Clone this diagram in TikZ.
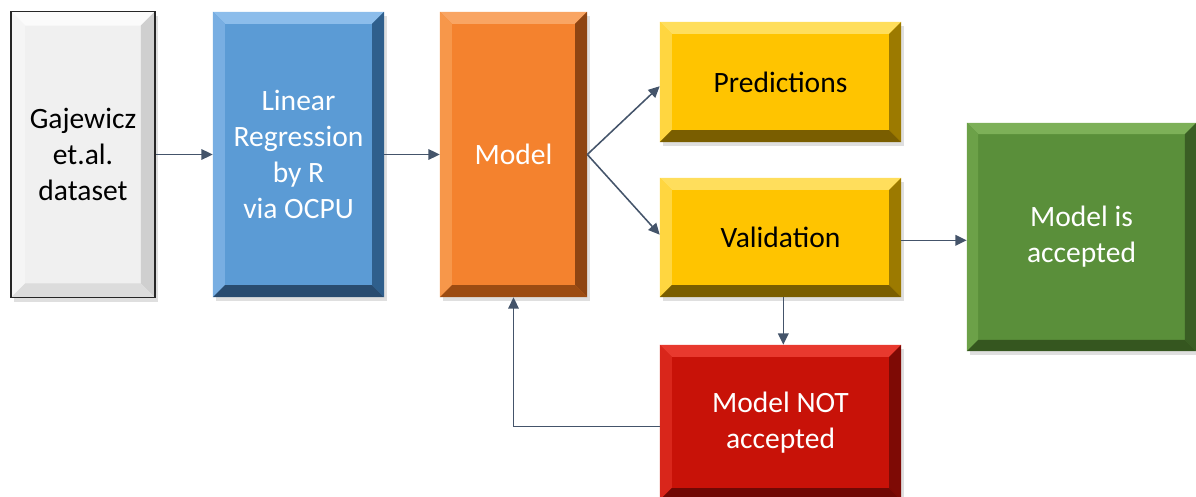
\documentclass[tikz,border=0pt]{standalone}
\usepackage{fontspec}
\setmainfont{Carlito}
\usetikzlibrary{arrows.meta,shadows}
\definecolor{arr}{HTML}{44546A}
\definecolor{gface}{HTML}{F0F0F0}\definecolor{gtop}{HTML}{FBFBFB}\definecolor{gleft}{HTML}{F5F5F5}\definecolor{gright}{HTML}{CFCFCF}\definecolor{gbot}{HTML}{DCDCDC}
\definecolor{bface}{HTML}{5B9BD5}\definecolor{btop}{HTML}{8CBDEB}\definecolor{bleft}{HTML}{78AEE2}\definecolor{bright}{HTML}{2F5F8C}\definecolor{bbot}{HTML}{294C70}
\definecolor{oface}{HTML}{F4822E}\definecolor{otop}{HTML}{F9A563}\definecolor{oleft}{HTML}{F7974A}\definecolor{oright}{HTML}{8E4512}\definecolor{obot}{HTML}{9C4C12}
\definecolor{yface}{HTML}{FFC400}\definecolor{ytop}{HTML}{FFDE5C}\definecolor{yleft}{HTML}{FFD640}\definecolor{yright}{HTML}{9C7A00}\definecolor{ybot}{HTML}{7A5E00}
\definecolor{nface}{HTML}{5A8F3A}\definecolor{ntop}{HTML}{7DB058}\definecolor{nleft}{HTML}{6CA148}\definecolor{nright}{HTML}{3A5E24}\definecolor{nbot}{HTML}{35561F}
\definecolor{rface}{HTML}{C81208}\definecolor{rtop}{HTML}{E8392E}\definecolor{rleft}{HTML}{D9261B}\definecolor{rright}{HTML}{7E0A05}\definecolor{rbot}{HTML}{700804}
\tikzset{
  bevelbox/.style n args={6}{rectangle, inner sep=0pt, fill=#1, align=center,
    font=\fontsize{21}{25.5}\selectfont, text=white,
    drop shadow={opacity=0.25, shadow xshift=2pt, shadow yshift=-3pt},
    path picture={
      \fill[#2] (path picture bounding box.north west) -- (path picture bounding box.north east)
        -- ([xshift=-#6,yshift=-#6]path picture bounding box.north east) -- ([xshift=#6,yshift=-#6]path picture bounding box.north west) -- cycle;
      \fill[#3] (path picture bounding box.north west) -- (path picture bounding box.south west)
        -- ([xshift=#6,yshift=#6]path picture bounding box.south west) -- ([xshift=#6,yshift=-#6]path picture bounding box.north west) -- cycle;
      \fill[#4] (path picture bounding box.north east) -- (path picture bounding box.south east)
        -- ([xshift=-#6,yshift=#6]path picture bounding box.south east) -- ([xshift=-#6,yshift=-#6]path picture bounding box.north east) -- cycle;
      \fill[#5] (path picture bounding box.south west) -- (path picture bounding box.south east)
        -- ([xshift=-#6,yshift=#6]path picture bounding box.south east) -- ([xshift=#6,yshift=#6]path picture bounding box.south west) -- cycle;
    }},
  graybox/.style={bevelbox={gface}{gtop}{gleft}{gright}{gbot}{10pt}, text=black, draw=black!85, line width=1.2pt},
  bluebox/.style={bevelbox={bface}{btop}{bleft}{bright}{bbot}{8.5pt}},
  orangebox/.style={bevelbox={oface}{otop}{oleft}{oright}{obot}{8.5pt}},
  yellowbox/.style={bevelbox={yface}{ytop}{yleft}{yright}{ybot}{8.5pt}, text=black},
  greenbox/.style={bevelbox={nface}{ntop}{nleft}{nright}{nbot}{8pt}},
  redbox/.style={bevelbox={rface}{rtop}{rleft}{rright}{rbot}{8.5pt}},
  conn/.style={draw=arr, line width=1.1pt, -{Triangle[length=8pt,width=7.5pt]}}
}
\begin{document}
\begin{tikzpicture}[x=0.025cm,y=-0.025cm]
\clip (0,0) rectangle (1196,497);
\useasboundingbox (0,0) rectangle (1196,497);
\node[graybox, minimum width=3.6cm, minimum height=7.15cm] (data) at (83,154.5) {Gajewicz\\et.al.\\dataset};
\node[bluebox, minimum width=4.275cm, minimum height=7.125cm] (lr) at (298.5,154.5) {Linear\\Regression\\by R\\via OCPU};
\node[orangebox, minimum width=3.675cm, minimum height=7.125cm] (model) at (513.5,154.5) {Model};
\node[yellowbox, minimum width=6.025cm, minimum height=3.0cm] (pred) at (780.5,82) {Predictions};
\node[yellowbox, minimum width=6.025cm, minimum height=2.975cm] (val) at (780.5,237.5) {Validation};
\node[greenbox, minimum width=5.725cm, minimum height=5.7cm] (acc) at (1081.5,237) {Model is\\accepted};
\node[redbox, minimum width=6.025cm, minimum height=3.875cm] (nacc) at (780.5,422.5) {Model NOT\\accepted};
\draw[conn] (data.east) -- (lr.west);
\draw[conn] (lr.east) -- (model.west);
\draw[conn] (model.east) -- ([yshift=-3pt]pred.west);
\draw[conn] (model.east) -- ([yshift=2pt]val.west);
\draw[conn] ([yshift=-2pt]val.east) -- ([yshift=-2pt]val.east -| acc.west);
\draw[conn] ([xshift=2pt]val.south) -- ([xshift=2pt]nacc.north);
\draw[conn] ([yshift=-3pt]nacc.west) -| (model.south);
\end{tikzpicture}
\end{document}
